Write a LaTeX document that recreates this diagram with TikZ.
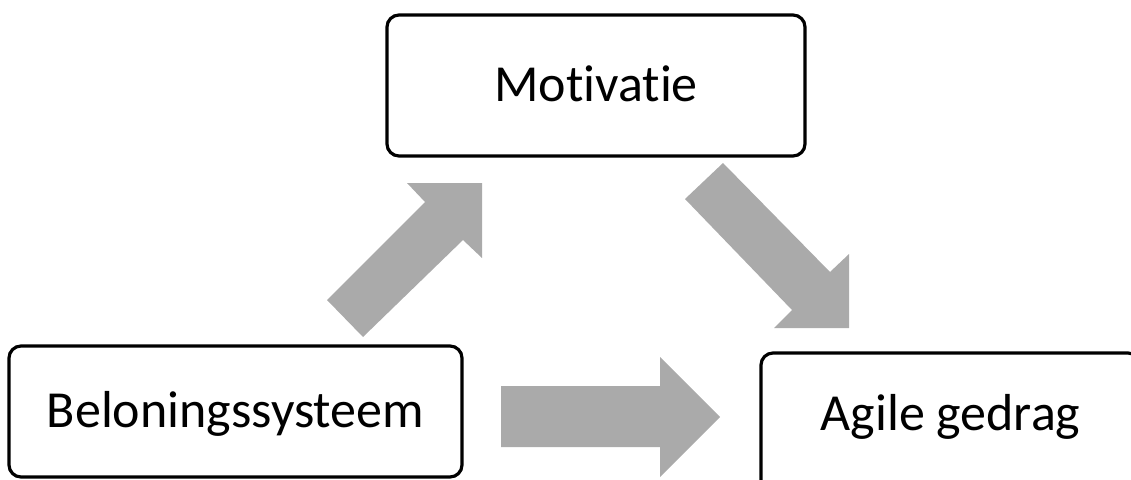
\documentclass[tikz,border=0pt]{standalone}
\usepackage{fontspec}
\setmainfont{Carlito}[Ligatures=NoCommon]
\definecolor{arrowgray}{HTML}{AAAAAA}
\begin{document}
\begin{tikzpicture}[x=0.75pt,y=-0.75pt,
  box/.style={draw=black, line width=2.4pt, rounded corners=9pt, fill=white,
    font=\fontsize{39}{46}\selectfont, text height=24.6pt, text depth=0pt, inner sep=0pt},
  blockarrow/.style={fill=arrowgray, draw=none}]
\useasboundingbox (0,0) rectangle (1131,479);
\clip (0,0) rectangle (1131,479);
% boxes
\node[box, minimum width=313.5pt, minimum height=105.75pt] (mot) at (596,85.5) {Motivatie};
\node[box, minimum width=339.75pt, minimum height=98.25pt] (bel) at (235.5,411.5) {Beloningssysteem};
\node[box, minimum width=284.25pt, minimum height=106.5pt, text depth=15.6pt] (agi) at (950.5,424) {Agile gedrag};
% block arrows
\fill[blockarrow] (327,300) -- (425,202) -- (407,183) -- (482,183) -- (482,258) -- (463,240) -- (363,337) -- cycle;
\fill[blockarrow] (685,199) -- (723,163) -- (830,272) -- (849,254) -- (849,328) -- (774,328) -- (792,310) -- cycle;
\fill[blockarrow] (501,386) -- (660,386) -- (660,357) -- (720,417) -- (660,477) -- (660,447) -- (501,447) -- cycle;
\end{tikzpicture}
\end{document}
